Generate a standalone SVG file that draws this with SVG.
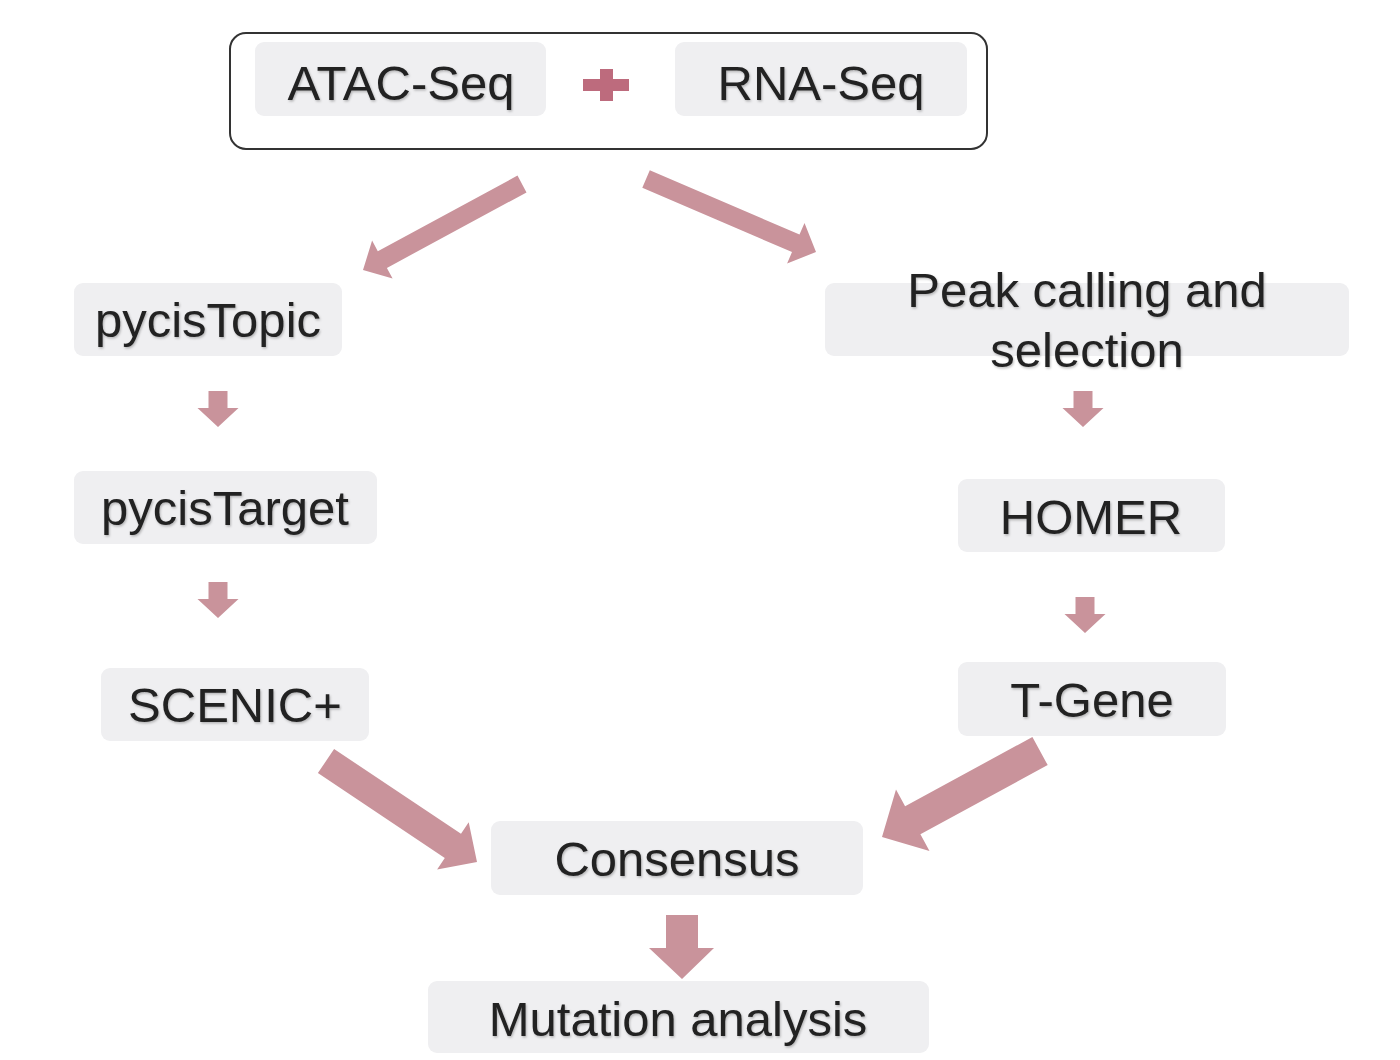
<svg xmlns="http://www.w3.org/2000/svg" width="1400" height="1060" viewBox="0 0 1400 1060">
<defs>
<filter id="ts" x="-5%" y="-20%" width="110%" height="140%">
<feDropShadow dx="1" dy="1.5" stdDeviation="1" flood-color="#000" flood-opacity="0.25"/>
</filter>
</defs>
<style>
.box{fill:#efeff1;}
.lbl{font-family:"Liberation Sans",Arial,Helvetica,sans-serif;font-size:49px;fill:#222;text-anchor:middle;filter:url(#ts);}
.arr{fill:#c9939b;}
.plus{fill:#bd6b7d;}
</style>
<rect width="1400" height="1060" fill="#fff"/>
<g id="input">
<rect x="230" y="33" width="757" height="116" rx="16" fill="#fff" stroke="#333" stroke-width="2"/>
<g id="atac">
<rect class="box" x="255" y="42" width="291" height="74" rx="9"/>
<text class="lbl" x="401" y="100">ATAC-Seq</text>
</g>
<g id="plus">
<rect class="plus" x="583" y="79" width="46" height="12"/>
<rect class="plus" x="600" y="69" width="13" height="32"/>
</g>
<g id="rna">
<rect class="box" x="675" y="42" width="292" height="74" rx="9"/>
<text class="lbl" x="821" y="100">RNA-Seq</text>
</g>
</g>
<g id="pycisTopic">
<rect class="box" x="74" y="283" width="268" height="73" rx="9"/>
<text class="lbl" x="208" y="337">pycisTopic</text>
</g>
<g id="peak">
<rect class="box" x="825" y="283" width="524" height="73" rx="9"/>
<text class="lbl" x="1087" y="307">Peak calling and</text>
<text class="lbl" x="1087" y="367">selection</text>
</g>
<g id="pycisTarget">
<rect class="box" x="74" y="471" width="303" height="73" rx="9"/>
<text class="lbl" x="225" y="525">pycisTarget</text>
</g>
<g id="homer">
<rect class="box" x="958" y="479" width="267" height="73" rx="9"/>
<text class="lbl" x="1091" y="534">HOMER</text>
</g>
<g id="scenic">
<rect class="box" x="101" y="668" width="268" height="73" rx="9"/>
<text class="lbl" x="235" y="722">SCENIC+</text>
</g>
<g id="tgene">
<rect class="box" x="958" y="662" width="268" height="74" rx="9"/>
<text class="lbl" x="1092" y="717">T-Gene</text>
</g>
<g id="consensus">
<rect class="box" x="491" y="821" width="372" height="74" rx="9"/>
<text class="lbl" x="677" y="876">Consensus</text>
</g>
<g id="mutation">
<rect class="box" x="428" y="981" width="501" height="72" rx="9"/>
<text class="lbl" x="678" y="1036">Mutation analysis</text>
</g>
<g id="connectors">
<polygon class="arr" points="517.5,175.6 377.8,251.2 372.1,240.6 363,270 392.6,278.4 386.9,267.9 526.5,192.4"/>
<polygon class="arr" points="642.3,187.7 792.0,252.1 787.1,263.5 816,252 804.5,223.1 799.5,234.6 649.8,170.3"/>
<polygon class="arr" points="208.5,391 227.5,391 227.5,408 238.5,408 218,427 197.5,408 208.5,408"/>
<polygon class="arr" points="208.5,582 227.5,582 227.5,599 238.5,599 218,618 197.5,599 208.5,599"/>
<polygon class="arr" points="1073.5,391 1092.5,391 1092.5,408 1103.5,408 1083,427 1062.5,408 1073.5,408"/>
<polygon class="arr" points="1075.5,597 1094.5,597 1094.5,614 1105.5,614 1085,633 1064.5,614 1075.5,614"/>
<polygon class="arr" points="317.9,773.1 444.8,857.9 437.1,869.6 477,862 468.7,822.2 461.0,833.8 334.1,749.0"/>
<polygon class="arr" points="1032.4,737.0 905.1,806.2 896.0,789.5 882,837 929.5,851.0 920.4,834.3 1047.7,765.1"/>
<polygon class="arr" points="666,915 698,915 698,948 714,948 682,979 649,948 666,948"/>
</g>
</svg>
